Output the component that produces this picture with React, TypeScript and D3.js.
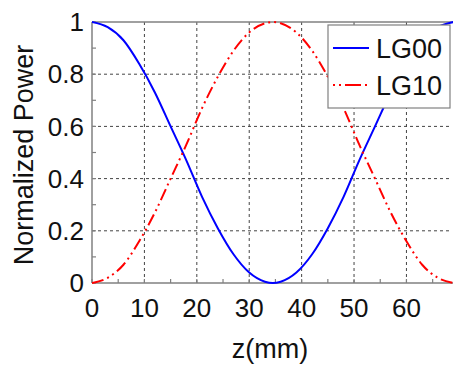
import * as d3 from "d3";

const zValues = [0, 3, 6, 9, 12, 15, 18, 21, 24, 27, 30, 33, 34.5, 36, 39, 42, 45, 48, 51, 54, 57, 60, 63, 66, 69];
const lg00 = [1, 0.98, 0.93, 0.84, 0.73, 0.6, 0.47, 0.33, 0.21, 0.11, 0.04, 0.005, 0, 0.005, 0.04, 0.11, 0.21, 0.33, 0.47, 0.6, 0.73, 0.84, 0.93, 0.98, 1];
const lg10 = [0, 0.02, 0.07, 0.16, 0.27, 0.4, 0.53, 0.67, 0.79, 0.89, 0.96, 0.995, 1, 0.995, 0.96, 0.89, 0.79, 0.67, 0.53, 0.4, 0.27, 0.16, 0.07, 0.02, 0];
const xTicks = [0, 10, 20, 30, 40, 50, 60];
const xMinor = [5, 15, 25, 35, 45, 55, 65];
const yTicks = [0, 0.2, 0.4, 0.6, 0.8, 1];
const yMinor = [0.1, 0.3, 0.5, 0.7, 0.9];
const yTickLabels = ["0", "0.2", "0.4", "0.6", "0.8", "1"];
const seriesNames = ["LG00", "LG10"];

const W = 453;
const H = 365;
const left = 92, right = 451, top = 22, bottom = 283;
const font = "'Liberation Sans', Arial, sans-serif";

export default function App() {
  const x = d3.scaleLinear().domain([0, 68.5]).range([left, right]);
  const y = d3.scaleLinear().domain([0, 1]).range([bottom, top]);

  const line = d3
    .line<number>()
    .x((_, i) => x(zValues[i]))
    .y((d) => y(d))
    .curve(d3.curveMonotoneX);

  const axisColor = "#808080";
  const gridColor = "#444";

  return (
    <svg width={W} height={H} style={{ position: "absolute", left: 0, top: 0, background: "#fff" }} fontFamily={font}>
      <defs>
        <clipPath id="plot">
          <rect x={left} y={top - 3} width={right - left + 2} height={bottom - top + 6} />
        </clipPath>
      </defs>

      {/* grid */}
      {xTicks.filter((t) => t > 0).map((t) => (
        <line key={"gx" + t} x1={x(t)} x2={x(t)} y1={top} y2={bottom} stroke={gridColor} strokeWidth={1} strokeDasharray="3,3" />
      ))}
      {yTicks.filter((t) => t > 0 && t < 1).map((t) => (
        <line key={"gy" + t} x1={left} x2={right} y1={y(t)} y2={y(t)} stroke={gridColor} strokeWidth={1} strokeDasharray="3,3" />
      ))}

      {/* frame */}
      <line x1={left} x2={W} y1={top} y2={top} stroke={axisColor} strokeWidth={1.5} />
      <line x1={left} x2={W} y1={bottom} y2={bottom} stroke={axisColor} strokeWidth={1.5} />
      <line x1={left} x2={left} y1={top} y2={bottom} stroke={axisColor} strokeWidth={1.5} />

      {/* ticks */}
      {xTicks.concat(xMinor).map((t) => (
        <line key={"tx" + t} x1={x(t)} x2={x(t)} y1={bottom} y2={bottom - 4} stroke={axisColor} strokeWidth={1.2} />
      ))}
      {yTicks.concat(yMinor).map((t) => (
        <line key={"ty" + t} x1={left} x2={left + 4} y1={y(t)} y2={y(t)} stroke={axisColor} strokeWidth={1.2} />
      ))}

      {/* series */}
      <g clipPath="url(#plot)">
        <path d={line(lg00) || ""} fill="none" stroke="#0000ff" strokeWidth={2} />
        <path d={line(lg10) || ""} fill="none" stroke="#ff0000" strokeWidth={2} strokeDasharray="12,4,2,4,2,4" />
      </g>

      {/* tick labels */}
      {xTicks.map((t) => (
        <text key={"lx" + t} x={x(t)} y={317} textAnchor="middle" fontSize={26} fill="#111">
          {t}
        </text>
      ))}
      {yTicks.map((t, i) => (
        <text key={"ly" + t} x={84} y={y(t)} dy="0.35em" textAnchor="end" fontSize={26} fill="#111">
          {yTickLabels[i]}
        </text>
      ))}

      {/* axis titles */}
      <text x={270} y={358} textAnchor="middle" fontSize={27} fill="#111">
        z(mm)
      </text>
      <text transform={`translate(33,155) rotate(-90)`} textAnchor="middle" fontSize={27} fill="#111">
        Normalized Power
      </text>

      {/* legend */}
      <rect x={328} y={25} width={122} height={83} fill="#fff" stroke={axisColor} strokeWidth={1.2} />
      <line x1={333} x2={369} y1={48} y2={48} stroke="#0000ff" strokeWidth={2} />
      <line x1={333} x2={369} y1={85} y2={85} stroke="#ff0000" strokeWidth={2} strokeDasharray="2,4,2,4,16,4" />
      <text x={376} y={58} fontSize={27} fill="#111">{seriesNames[0]}</text>
      <text x={376} y={95} fontSize={27} fill="#111">{seriesNames[1]}</text>
    </svg>
  );
}
